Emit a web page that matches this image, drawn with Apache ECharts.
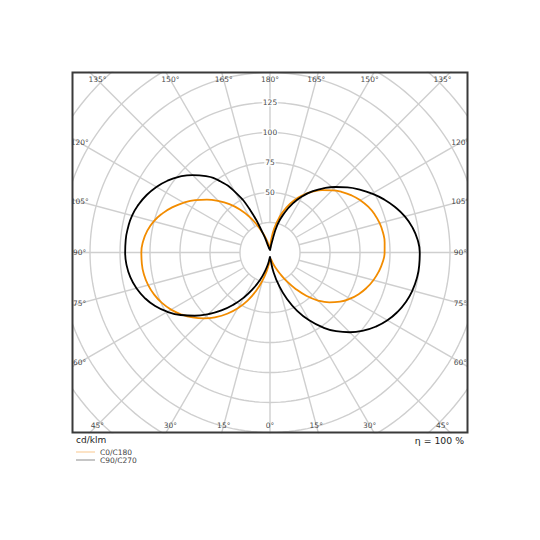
<!DOCTYPE html>
<html>
<head>
<meta charset="utf-8">
<script src="https://cdn.jsdelivr.net/npm/echarts@6/dist/echarts.min.js"></script>
<style>html,body{margin:0;padding:0;background:#fff}#c{width:540px;height:540px}</style>
</head>
<body>
<div id="c"></div>
<script>
// ---- data (cd/klm), gamma measured from nadir (0°) to zenith (180°) ----
const gammaDeg = [0,5,10,15,20,25,30,35,40,45,50,55,60,65,70,75,80,85,90,95,100,105,110,115,120,125,130,135,140,145,150,155,160,165,170,175,180];
const c0   = [5,5.2,6.3,9.5,13.5,19.3,27.3,36.8,47,56.6,64.6,71.3,77,81.8,85.8,89.2,92,94.2,95.5,95.9,95.6,94.6,92.8,90.3,87,83,78.4,73.3,67.8,61.8,55.3,48,39.8,30.5,20.5,10,3];
const c180 = [5,9,15.5,24,34.2,44.2,53.6,62.3,70.3,77.6,84.2,90.1,95.2,99.4,102.7,105.1,106.6,107.2,107.2,106.2,103.9,100.3,95.3,89.5,83,76,68.6,60.8,52.6,43.8,34.5,25,17,10.8,6.3,4,3];
const c90  = [3.3,6.5,16,28,41,53.6,65.3,76,85.6,94,101.4,107.7,113,117.2,120.5,122.8,124.2,124.8,124.8,123.4,120.5,116.3,110.9,104.8,98.2,91.3,84.3,77.2,70,62.4,54.2,45.1,35,24,8,3,2];
const c270 = [3.3,5.5,10,16,24.3,33.3,43,53,63,72.6,82,90.8,98.8,105.6,111,115.2,118.2,120,120.7,120.7,120.1,119,116.6,113.4,109.3,104.3,98.3,91.3,83,72.5,58.4,38.9,16,5,3,2.5,2];
const seriesNames = ['C0/C180', 'C90/C270'];
const ringValues = [25,50,75,100,125,150,175,200,225];
const spokeAngles = [0,15,30,45,60,75,90,105,120,135,150,165,180];
const radialTickLabels = [50,75,100,125];
const unitText = 'cd/klm';
const efficiencyText = 'η = 100 %';

// ---- layout ----
const G = {left: 72.5, top: 72.5, width: 395, height: 360};
const pxPerUnit = 1.2;
const xHalf = G.width / 2 / pxPerUnit;
const yHalf = G.height / 2 / pxPerUnit;
const rad = d => d * Math.PI / 180;
const toXY = (side, g, r) => [side * r * Math.sin(rad(g)), -r * Math.cos(rad(g))];

function curve(rightVals, leftVals) {
  const pts = gammaDeg.map((g, i) => toXY(1, g, rightVals[i]));
  for (let i = gammaDeg.length - 1; i >= 0; i--) pts.push(toXY(-1, gammaDeg[i], leftVals[i]));
  return pts;
}

const gridColor = '#cfcfcf';
const series = [];
ringValues.forEach(r => {
  const d = [];
  for (let a = 0; a <= 360; a += 2) d.push([r * Math.sin(rad(a)), r * Math.cos(rad(a))]);
  series.push({type: 'line', data: d, showSymbol: false, silent: true, clip: true, z: 1,
    lineStyle: {color: gridColor, width: 1.4}, animation: false});
});
spokeAngles.forEach(g => {
  const sides = (g === 0 || g === 180) ? [1] : [1, -1];
  sides.forEach(s => {
    series.push({type: 'line', data: [toXY(s, g, 25), toXY(s, g, 300)], showSymbol: false, silent: true, clip: true, z: 1,
      lineStyle: {color: gridColor, width: 1.4}, animation: false});
  });
});

series.push({name: seriesNames[0], type: 'line', data: curve(c0, c180), showSymbol: false, smooth: 0.5, z: 5,
  lineStyle: {color: '#f28c00', width: 1.8}, itemStyle: {color: '#f28c00'}, animation: false});
series.push({name: seriesNames[1], type: 'line', data: curve(c90, c270), showSymbol: false, smooth: 0.5, z: 6,
  lineStyle: {color: '#000000', width: 1.8}, itemStyle: {color: '#000000'}, animation: false});

// radial tick labels
series.push({type: 'scatter', symbolSize: 0, silent: true, z: 8, animation: false,
  data: radialTickLabels.map(v => ({value: [0, v], name: String(v)})),
  label: {show: true, position: 'inside', formatter: '{b}', fontSize: 7.5, fontFamily: 'DejaVu Sans',
    color: '#111', backgroundColor: '#fff', padding: [0, 1]}});

// angle labels placed where each spoke meets a box inset from the frame
const insetX = xHalf - 6, insetY = yHalf - 6.2;
const angleLabelData = [];
spokeAngles.forEach(g => {
  const sides = (g === 0 || g === 180) ? [1] : [1, -1];
  sides.forEach(s => {
    const sx = Math.abs(Math.sin(rad(g))), cy = Math.abs(Math.cos(rad(g)));
    const t = Math.min(sx > 1e-9 ? insetX / sx : Infinity, cy > 1e-9 ? insetY / cy : Infinity);
    angleLabelData.push({value: toXY(s, g, t), name: g + '°'});
  });
});
series.push({type: 'scatter', symbolSize: 0, silent: true, z: 8, animation: false, data: angleLabelData,
  label: {show: true, position: 'inside', formatter: '{b}', fontSize: 7.5, fontFamily: 'DejaVu Sans', color: '#111'}});

const chart = echarts.init(document.getElementById('c'), null, {renderer: 'svg'});
chart.setOption({
  animation: false,
  backgroundColor: '#fff',
  grid: {left: G.left, top: G.top, width: G.width, height: G.height, show: false},
  xAxis: {type: 'value', min: -xHalf, max: xHalf, show: false},
  yAxis: {type: 'value', min: -yHalf, max: yHalf, show: false},
  legend: {
    orient: 'vertical', left: 76, top: 448, padding: 0, itemWidth: 19, itemHeight: 1, itemGap: 0, icon: 'rect',
    textStyle: {fontSize: 7.5, fontFamily: 'DejaVu Sans', color: '#444', lineHeight: 8},
    selectedMode: false,
    data: [
      {name: seriesNames[0], itemStyle: {color: '#f8c68c'}},
      {name: seriesNames[1], itemStyle: {color: '#8c8c8c'}}
    ]
  },
  series: series,
  graphic: [
    {type: 'rect', z: 50, silent: true, shape: {x: 0, y: 60, width: 72, height: 384}, style: {fill: '#fff'}},
    {type: 'rect', z: 50, silent: true, shape: {x: 468, y: 60, width: 72, height: 384}, style: {fill: '#fff'}},
    {type: 'rect', z: 60, silent: true, shape: {x: G.left, y: G.top, width: G.width, height: G.height},
      style: {fill: 'none', stroke: '#3a3a3a', lineWidth: 2}},
    {type: 'text', z: 60, silent: true, x: 76, y: 440,
      style: {text: unitText, fill: '#222', fontSize: 9, fontFamily: 'DejaVu Sans', verticalAlign: 'middle', align: 'left'}},
    {type: 'text', z: 60, silent: true, x: 464, y: 440,
      style: {text: efficiencyText, fill: '#222', fontSize: 9.3, fontFamily: 'DejaVu Sans', verticalAlign: 'middle', align: 'right'}}
  ]
});
</script>
</body>
</html>
